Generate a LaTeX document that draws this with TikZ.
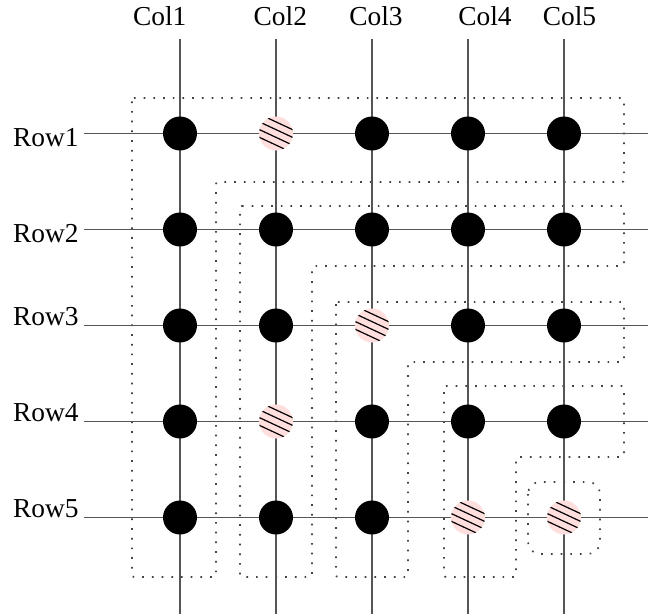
\documentclass[tikz,border=0pt]{standalone}
\usepackage{fontspec}
\setmainfont{Liberation Serif}
\definecolor{gridgray}{HTML}{555555}
\definecolor{dotgray}{HTML}{444444}
\definecolor{pinkfill}{HTML}{FFDEDE}
\begin{document}
\begin{tikzpicture}[x=0.5pt,y=-0.5pt,
  gridline/.style={draw=gridgray, line width=0.65pt},
  region/.style={draw=dotgray, line width=0.85pt, dash pattern=on 0.85pt off 4pt, rounded corners=1pt},
  dot/.style={circle, fill=black, minimum size=17pt, inner sep=0pt},
  hatched/.style={circle, fill=pinkfill, minimum size=17pt, inner sep=0pt,
    path picture={
      \foreach \k in {-1.5,-0.5,0.5,1.5}{
        \draw[black, line width=0.6pt]
          ([shift={({\k*3.5*0.423pt-12*0.906pt},{\k*3.5*0.906pt+12*0.423pt})}]path picture bounding box.center)
          -- ++(21.75pt,-10.15pt);
      }
    }},
  lbl/.style={anchor=base west, inner sep=0pt, font=\fontsize{13.7}{16}\selectfont}
]
\useasboundingbox (0,0) rectangle (650,616);

% dotted regions
\draw[region] (132,98) -- (624,98) -- (624,182) -- (216,182) -- (216,577) -- (132,577) -- cycle;
\draw[region] (240,206) -- (624,206) -- (624,266) -- (312,266) -- (312,577) -- (240,577) -- cycle;
\draw[region] (336,302) -- (624,302) -- (624,362) -- (408,362) -- (408,577) -- (336,577) -- cycle;
\draw[region] (444,386) -- (624,386) -- (624,457) -- (516,457) -- (516,577) -- (444,577) -- cycle;
\draw[region, rounded corners=6pt] (528,482) rectangle (600,554);

% line end coordinates
\foreach \i in {1,...,5} {
  \coordinate (rs\i) at (84, {133.5+96*(\i-1)});
  \coordinate (re\i) at (648, {133.5+96*(\i-1)});
  \coordinate (cs\i) at ({180+96*(\i-1)}, 39);
  \coordinate (ce\i) at ({180+96*(\i-1)}, 614);
}
\foreach \i in {1,...,5} {
  \draw[gridline] (rs\i) -- (re\i);
  \draw[gridline] (cs\i) -- (ce\i);
}

% crossing points
\foreach \i/\j/\s in {
  1/1/dot, 1/2/hatched, 1/3/dot, 1/4/dot, 1/5/dot,
  2/1/dot, 2/2/dot, 2/3/dot, 2/4/dot, 2/5/dot,
  3/1/dot, 3/2/dot, 3/3/hatched, 3/4/dot, 3/5/dot,
  4/1/dot, 4/2/hatched, 4/3/dot, 4/4/dot, 4/5/dot,
  5/1/dot, 5/2/dot, 5/3/dot, 5/4/hatched, 5/5/hatched}
  \node[\s] (n\i\j) at ({180+96*(\j-1)},{133.5+96*(\i-1)}) {};

% labels
\node[lbl] (C1) at (132.7,25.7) {Col1};
\node[lbl] (C2) at (253.3,25.7) {Col2};
\node[lbl] (C3) at (349.0,25.7) {Col3};
\node[lbl] (C4) at (458.0,25.7) {Col4};
\node[lbl] (C5) at (542.5,25.7) {Col5};
\node[lbl] (R1) at (12.7,146) {Row1};
\node[lbl] (R2) at (12.7,242) {Row2};
\node[lbl] (R3) at (12.7,325.5) {Row3};
\node[lbl] (R4) at (12.7,421.5) {Row4};
\node[lbl] (R5) at (12.7,517.5) {Row5};
\end{tikzpicture}
\end{document}
